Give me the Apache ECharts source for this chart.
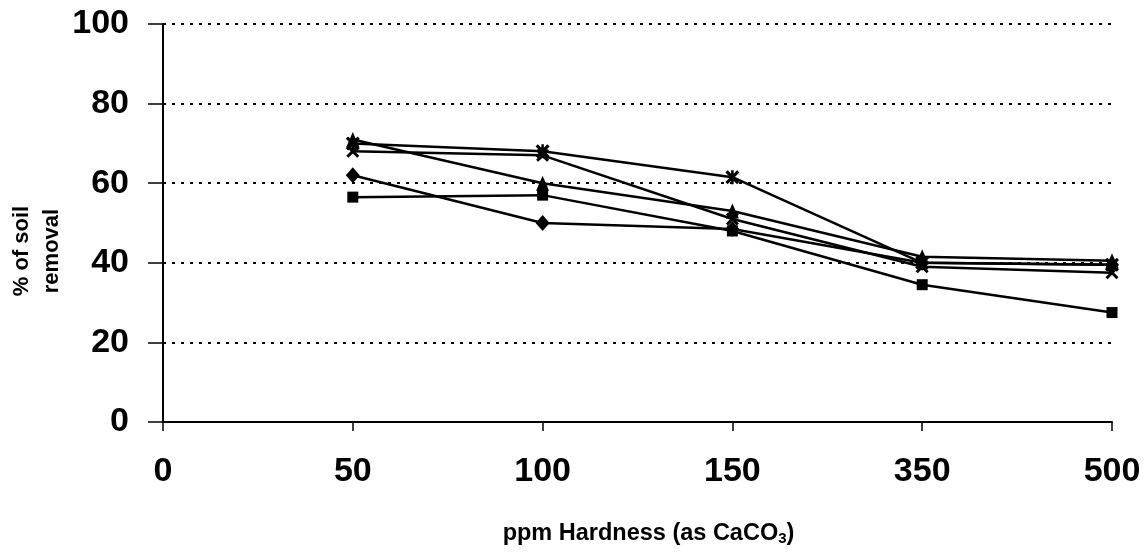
<!DOCTYPE html>
<html><head><meta charset="utf-8">
<script src="https://cdn.jsdelivr.net/npm/echarts@6/dist/echarts.min.js"></script>
<style>html,body{margin:0;padding:0;background:#fff}#c{width:1146px;height:552px}</style>
</head><body><div id="c"></div>
<script>
const categories = ['0', '50', '100', '150', '350', '500'];
const diamondSeries = [null, 62, 50, 48.5, 40, 39.5];
const squareSeries = [null, 56.5, 57, 48, 34.5, 27.5];
const triangleSeries = [null, 71, 60, 53, 41.5, 40.5];
const xSeries = [null, 68, 67, 51, 39, 37.5];
const starSeries = [null, 70, 68, 61.5, 40, 39.5];
const yTicks = [0, 20, 40, 60, 80, 100];

const X_PATH = 'path://M1.6,0 L5,3.4 L8.4,0 L10,1.6 L6.6,5 L10,8.4 L8.4,10 L5,6.6 L1.6,10 L0,8.4 L3.4,5 L0,1.6 Z';
const STAR_PATH = X_PATH + ' M4.1,0 L5.9,0 L5.9,10 L4.1,10 Z';
const FONT = 'Liberation Sans, Arial, sans-serif';

function mk(name, data, symbol, size) {
  return {
    name, type: 'line', data, symbol, symbolSize: size,
    showAllSymbol: true, connectNulls: false,
    lineStyle: { color: '#000', width: 2.5 },
    itemStyle: { color: '#000', borderColor: '#000', borderWidth: 0 },
    emphasis: { disabled: true }, animation: false
  };
}

const chart = echarts.init(document.getElementById('c'));
chart.setOption({
  animation: false,
  backgroundColor: '#fff',
  grid: { left: 163, right: 34, top: 24, bottom: 130, containLabel: false, outerBoundsMode: 'none' },
  xAxis: {
    type: 'category', data: categories, boundaryGap: false,
    axisLine: { lineStyle: { color: '#000', width: 2 } },
    axisTick: { show: true, alignWithLabel: true, length: 9, lineStyle: { color: '#000', width: 1.5 } },
    axisLabel: { color: '#000', fontFamily: FONT, fontWeight: 'bold', fontSize: 34, margin: 33 },
    splitLine: { show: false },
    name: 'ppm Hardness (as CaCO{sub|3})',
    nameLocation: 'middle', nameGap: 100, nameMoveOverlap: false,
    nameTextStyle: {
      color: '#000', fontFamily: FONT, fontWeight: 'bold', fontSize: 23.5, padding: [0, 0, 0, 22],
      rich: { sub: { fontSize: 15, fontWeight: 'bold', fontFamily: FONT, color: '#000', padding: [9, 0, 0, 0] } }
    }
  },
  yAxis: {
    type: 'value', min: 0, max: 100, interval: 20,
    axisLine: { show: true, lineStyle: { color: '#000', width: 2 } },
    axisTick: { show: true, inside: false, length: 15, lineStyle: { color: '#000', width: 1.5 } },
    axisLabel: { color: '#000', fontFamily: FONT, fontWeight: 'bold', fontSize: 34, margin: 34,
      formatter: v => yTicks.includes(v) ? String(v) : '' },
    splitLine: { show: true, lineStyle: { color: '#000', type: [3, 6], width: 2 } },
    name: '% of soil\nremoval', nameLocation: 'middle', nameGap: 96, nameRotate: 90, nameMoveOverlap: false,
    nameTextStyle: { color: '#000', fontFamily: FONT, fontWeight: 'bold', fontSize: 22, lineHeight: 30, padding: [0, 56, 0, 0] }
  },
  series: [
    mk('diamond', diamondSeries, 'diamond', [14, 16]),
    mk('square', squareSeries, 'rect', 11),
    mk('triangle', triangleSeries, 'triangle', [13, 15]),
    mk('x', xSeries, X_PATH, 13),
    mk('star', starSeries, STAR_PATH, 14)
  ]
});
</script></body></html>
